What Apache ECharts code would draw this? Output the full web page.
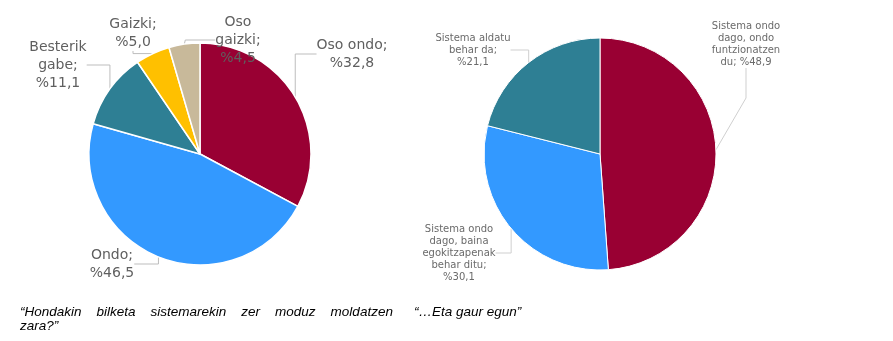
<!DOCTYPE html>
<html>
<head>
	<meta charset="utf-8">
	<title></title>
</head>
<body style="height: 100%; margin: 0; background: #fff">
<div id="container" style="width: 893px; height: 341px"></div>

<script src="https://cdn.jsdelivr.net/npm/echarts@6/dist/echarts.min.js"></script>
<script type="text/javascript">
	// ezkerreko tarta
	var leftNames = ['Oso ondo', 'Ondo', 'Besterik\ngabe', 'Gaizki', 'Oso\ngaizki'];
	var leftValues = [32.8, 46.5, 11.1, 5.0, 4.5];
	var leftColors = ['#990033', '#3399ff', '#2e7f94', '#ffc000', '#c8b99a'];
	// eskuineko tarta
	var rightNames = ['Sistema ondo\ndago, ondo\nfuntzionatzen\ndu', 'Sistema ondo\ndago, baina\negokitzapenak\nbehar ditu', 'Sistema aldatu\nbehar da'];
	var rightValues = [48.9, 30.1, 21.1];
	var rightColors = ['#990033', '#3399ff', '#2e7f94'];

	// etiketen kokapenak (x, y erdigunea)
	var leftLabelPos = [[352, 54], [112, 264], [58, 65], [133, 33], [238, 40]];
	var rightLabelPos = [[746, 44], [459, 253], [473, 50]];

	function fmt(v) {
		return '%' + v.toFixed(1).replace('.', ',');
	}

	function buildData(names, values, colors) {
		var out = [];
		for (var i = 0; i < names.length; i++) {
			out.push({ name: names[i], value: values[i], itemStyle: { color: colors[i] } });
		}
		return out;
	}

	var myChart = echarts.init(document.getElementById('container'), null, { renderer: 'canvas' });

	var option = {
		animation: false,
		series: [
			{
				type: 'pie',
				center: [200, 154],
				radius: [0, 111],
				startAngle: 90,
				clockwise: true,
				data: buildData(leftNames, leftValues, leftColors),
				itemStyle: { borderColor: '#fff', borderWidth: 1.5 },
				label: {
					show: true,
					fontFamily: 'DejaVu Sans',
					fontSize: 14,
					lineHeight: 18,
					color: '#5f5f5f',
					align: 'center',
					overflow: 'none',
					formatter: function (p) {
						return p.name + ';\n' + fmt(p.value);
					}
				},
				labelLine: { show: true, lineStyle: { color: '#bdbdbd', width: 1 } },
				labelLayout: function (params) {
					var p = leftLabelPos[params.dataIndex];
					return { x: p[0], y: p[1], align: 'center', verticalAlign: 'middle' };
				}
			},
			{
				type: 'pie',
				center: [600, 154],
				radius: [0, 116],
				startAngle: 90,
				clockwise: true,
				data: buildData(rightNames, rightValues, rightColors),
				itemStyle: { borderColor: '#fff', borderWidth: 1 },
				label: {
					show: true,
					fontFamily: 'DejaVu Sans',
					fontSize: 10,
					lineHeight: 12,
					color: '#6a6a6a',
					align: 'center',
					overflow: 'none',
					formatter: function (p) {
						if (p.dataIndex === 0) return p.name + '; ' + fmt(p.value);
						return p.name + ';\n' + fmt(p.value);
					}
				},
				labelLine: { show: true, lineStyle: { color: '#cfcfcf', width: 1 } },
				labelLayout: function (params) {
					var p = rightLabelPos[params.dataIndex];
					return { x: p[0], y: p[1], align: 'center', verticalAlign: 'middle' };
				}
			}
		],
		graphic: [
			{
				type: 'text', left: 20, top: 305,
				style: { text: '\u201cHondakin    bilketa    sistemarekin    zer    moduz    moldatzen', font: 'italic 13.5px "Liberation Sans"', fill: '#000' }
			},
			{
				type: 'text', left: 414, top: 305,
				style: { text: '\u201c\u2026Eta gaur egun\u201d', font: 'italic 13.5px "Liberation Sans"', fill: '#000' }
			},
			{
				type: 'text', left: 20, top: 319,
				style: { text: 'zara?\u201d', font: 'italic 13.5px "Liberation Sans"', fill: '#000' }
			}
		]
	};

	myChart.setOption(option);
</script>
</body>
</html>
